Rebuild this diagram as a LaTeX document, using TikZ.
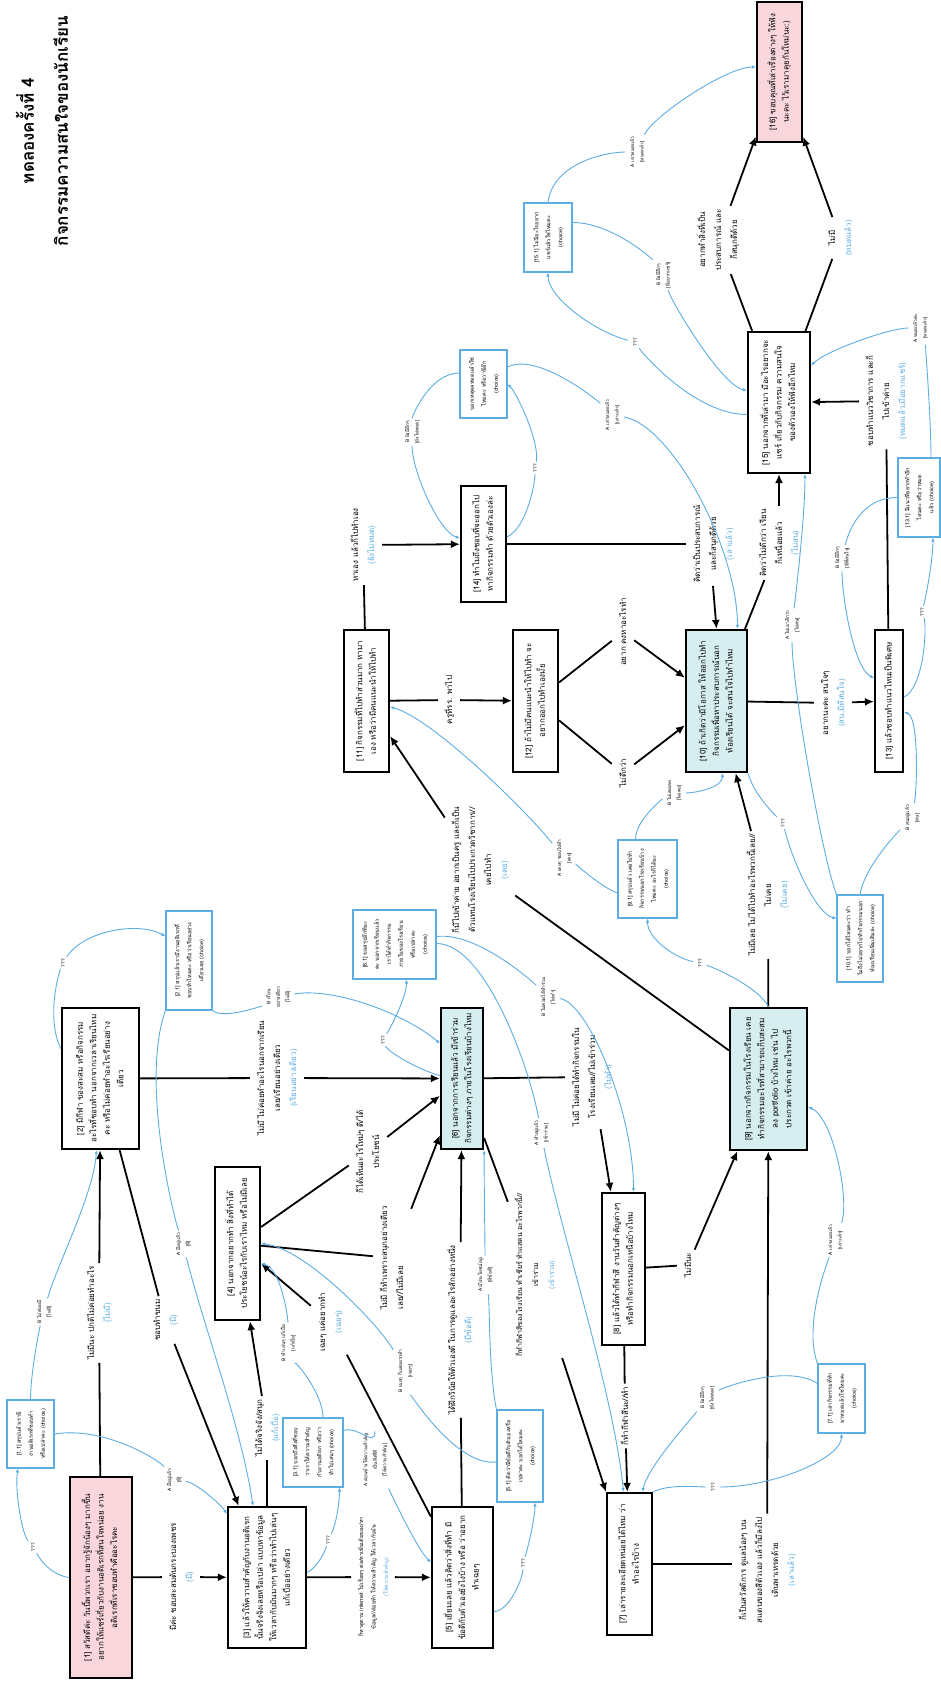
\documentclass[tikz,border=0pt]{standalone}
\usepackage{graphicx}
\usepackage{fontspec}
\setmainfont[Script=Thai]{Loma}
\usetikzlibrary{arrows.meta}
\definecolor{tblue}{RGB}{93,173,226}
\definecolor{cyanfill}{RGB}{214,238,239}
\definecolor{pinkfill}{RGB}{248,214,220}
\newcommand{\vt}[1]{\rotatebox{90}{\begin{tabular}{@{}c@{}}#1\end{tabular}}}
\newcommand{\vtl}[1]{\rotatebox{90}{\begin{tabular}{@{}l@{}}#1\end{tabular}}}
\newcommand{\bl}[1]{\textcolor{tblue}{#1}}
\tikzset{
  box/.style={draw, line width=2.2pt, inner sep=0pt, font=\fontsize{8}{13.5}\selectfont},
  cbox/.style={draw=tblue, line width=1.1pt, inner sep=0pt, font=\fontsize{5.5}{12}\selectfont},
  lbl/.style={inner sep=3pt, font=\fontsize{8}{16}\selectfont},
  sl/.style={inner sep=2pt, font=\fontsize{4.8}{9.5}\selectfont},
  conn/.style={line width=1.8pt},
  arr/.style={conn, -{Latex[length=9pt,width=8pt]}},
  bc/.style={tblue, line width=0.9pt},
  ba/.style={bc, -{Latex[length=4pt,width=3.5pt]}}
}
\begin{document}
\begin{tikzpicture}[x=1pt,y=-1pt]
\useasboundingbox (0,0) rectangle (941,1684);
% title
\node[font=\fontsize{17}{34}\selectfont\bfseries] (title) at (44,131) {\vt{ทดลองครั้งที่ 4\\กิจกรรมความสนใจของนักเรียน}};
% main boxes
\node[box, fill=pinkfill, minimum width=62, minimum height=201] (n1) at (101,1577.5) {\vt{[1] สวัสดีค่ะ วันนี้พวกเรา อยากรู้จักน้องๆ มากขึ้น\\อยากให้แชร์เกี่ยวกับงานอดิเรกที่สนใจหน่อย งาน\\อดิเรกที่เราชอบทำคืออะไรคะ}};
\node[box, minimum width=77, minimum height=141] (n2) at (100.5,1078.5) {\vt{[2] มีกีฬา ของสะสม หรือกิจกรรม\\อะไรที่ชอบทำ นอกจากเวลาเรียนไหม\\คะ หรือไม่ค่อยทำอะไรเรียนอย่าง\\เดียว}};
\node[box, minimum width=78, minimum height=141] (n3) at (267,1577.5) {\vt{[3] แล้วให้ความสำคัญกับงานอดิเรก\\นั้นจริงจังเลยหรือเปล่า แบบหาข้อมูล\\ให้เวลากับมันมากๆ หรือว่าทำไปเล่นๆ\\แก้เบื่ออย่างเดียว}};
\node[box, minimum width=45, minimum height=153] (n4) at (237.5,1243.5) {\vt{[4] นอกจากอยากทำ สิ่งที่ทำได้\\ประโยชน์อะไรกับเราไหม หรือไม่มีเลย}};
\node[box, minimum width=61, minimum height=141] (n5) at (462.5,1577.5) {\vt{[5] เยี่ยมเลย แล้วคิดว่าสิ่งที่ทำ มี\\ข้อดีกับตัวเองยังไงบ้าง หรือ ว่าอยาก\\ทำเฉยๆ}};
\node[box, fill=cyanfill, minimum width=42, minimum height=141] (n6) at (462,1078.5) {\vt{[6] นอกจากการเรียนแล้ว มีเข้าร่วม\\กิจกรรมต่างๆ ภายในโรงเรียนบ้างไหม}};
\node[box, minimum width=45, minimum height=142] (n7) at (629.5,1564) {\vt{[7] เล่ารายละเอียดหน่อยได้ไหม ว่า\\ทำอะไรบ้าง}};
\node[box, minimum width=43, minimum height=152] (n8) at (623.5,1269) {\vt{[8] แล้วได้ทำกีฬาสี งานวันสำคัญต่างๆ\\หรือทำกิจกรรมนอกเหนือบ้างไหม}};
\node[box, fill=cyanfill, minimum width=77, minimum height=142] (n9) at (768.5,1079) {\vt{[9] นอกจากกิจกรรมในโรงเรียน เคย\\ทำกิจกรรมอะไรที่สามารถเก็บสะสม\\ลง portfolio บ้างไหม เช่น ไป\\ประกวด เข้าค่าย อะไรพวกนี้}};
\node[box, fill=cyanfill, minimum width=61, minimum height=142] (n10) at (716.5,701) {\vt{[10] ถ้าเกิดว่ามีโอกาส ให้ออกไปทำ\\กิจกรรมเพื่อหาประสบการณ์นอก\\ห้องเรียนได้ จะสนใจไปทำไหม}};
\node[box, minimum width=45, minimum height=142] (n11) at (366.5,701) {\vt{[11] กิจกรรมที่ไปทำส่วนมาก หามา\\เอง หรือว่ามีคนแนะนำให้ไปทำ}};
\node[box, minimum width=45, minimum height=142] (n12) at (535.5,701) {\vt{[12] ถ้าไม่มีคนแนะนำให้ไปทำ จะ\\อยากออกไปทำเองมั้ย}};
\node[box, minimum width=28, minimum height=142] (n13) at (889,701) {\vt{[13] แล้วชอบทำแนวไหนเป็นพิเศษ}};
\node[box, minimum width=45, minimum height=116] (n14) at (483.5,544) {\vt{[14] ทำไมถึงชอบที่จะออกไป\\หากิจกรรมทำ ด้วยตัวเองล่ะ}};
\node[box, minimum width=62, minimum height=141] (n15) at (779,402.5) {\vt{[15] นอกจากที่เล่ามา มีอะไรอยากจะ\\แชร์ เกี่ยวกับกิจกรรม ความสนใจ\\ของตัวเองให้ฟังอีกไหม}};
\node[box, fill=pinkfill, minimum width=45, minimum height=140] (n16) at (779.5,72) {\vt{[16] ขอบคุณที่เล่าเรื่องต่างๆ ให้ฟัง\\นะคะ ไว้เรามาคุยกันใหม่นะ:)}};
% choice boxes
\node[cbox, minimum width=47, minimum height=68] (c1_1) at (30.5,1434) {\vt{[1.1] สรุปแล้วเรามี\\งานอดิเรกที่ชอบทำ\\หรือเปล่าคะ (choice)}};
\node[cbox, minimum width=46, minimum height=99] (c2_1) at (189,960.5) {\vt{[2.1] สรุปแล้วเรามีงานอดิเรกที่\\ชอบทำไหมคะ หรือว่าเรียนอย่าง\\เดียวเลย (choice)}};
\node[cbox, minimum width=60, minimum height=69] (c3_1) at (313,1452.5) {\vt{[3.1] บอกถึงสิ่งที่ชอบ\\ว่าเราให้ความสำคัญ\\กับงานอดิเรก หรือว่า\\ทำไปเล่นๆ (choice)}};
\node[cbox, minimum width=46, minimum height=92] (c5_1) at (520,1456) {\vt{[5.1] คิดว่ามีข้อดีกับตัวเองหรือ\\เปล่าคะ บอกได้ไหมคะ\\(choice)}};
\node[cbox, minimum width=83, minimum height=69] (c6_1) at (394.5,944.5) {\vt{[6.1] ขอสรุปอีกทีนะ\\คะ นอกจากเรียนแล้ว\\เราได้ทำกิจกรรม\\ภายในของโรงเรียน\\หรือเปล่าคะ\\(choice)}};
\node[cbox, minimum width=47, minimum height=69] (c7_1) at (841.5,1398.5) {\vt{[7.1] เล่ากิจกรรมที่ทำ\\มาหมดแล้วใช่ไหมคะ\\(choice)}};
\node[cbox, minimum width=59, minimum height=78] (c9_1) at (647.5,879) {\vt{[9.1] สรุปแล้ว เคยไปทำ\\กิจกรรมนอกโรงเรียนบ้าง\\ไหมคะ อะไรก็ได้นะ\\(choice)}};
\node[cbox, minimum width=46, minimum height=87] (c10_1) at (860,938.5) {\vt{[10.1] บอกได้ไหมคะว่า ทำ\\ไมถึงไม่อยากไปทำกิจกรรมนอก\\ห้องเรียนเพิ่มเติมล่ะ (choice)}};
\node[cbox, minimum width=42, minimum height=79] (c13_1) at (919,497.5) {\vt{[13.1] มีแนวที่อยากทำอีก\\ไหมคะ หรือว่าหมด\\แล้ว (choice)}};
\node[cbox, minimum width=47, minimum height=68] (c14_1) at (483.5,384) {\vt{บอกเหตุผลหมดแล้วใช่\\ไหมคะ หรือว่ามีอีก\\(choice)}};
\node[cbox, minimum width=48, minimum height=69] (c15_1) at (548,237.5) {\vt{[15.1] ไม่มีอะไรอยาก\\แชร์แล้วใช่ไหมคะ\\(choice)}};
% connector labels
\node[lbl] (L12) at (99,1313) {\vt{ไม่มีนะ ปกติไม่ค่อยทำอะไร\\\bl{(ไม่มี)}}};
\node[lbl] (L13) at (181,1577) {\vt{มีค่ะ ชอบสะสมต้นกระบองเพชร\\\bl{(มี)}}};
\node[lbl] (L23) at (165,1320) {\vt{ชอบทำขนม\\\bl{(มี)}}};
\node[lbl] (L26) at (277,1078) {\vt{ไม่มี ไม่ค่อยทำอะไรนอกจากเรียน\\เลย/เรียนอย่างเดียว\\\bl{(เรียนอย่างเดียว)}}};
\node[lbl] (L34) at (267,1428) {\vt{ไม่ได้จริงจัง/สนุก\\\bl{(แก้เบื่อ)}}};
\node[lbl, font=\fontsize{5.5}{12.5}\selectfont] (L35) at (373,1577) {\vt{ก็หาดูตาม internet ไปเรื่อยๆ ต่อ/หาเพิ่มเติมของ/หา\\ข้อมูล//ค่อยทำ ให้ความสำคัญ ให้เวลากับมัน\\\bl{(ให้ความสำคัญ)}}};
\node[lbl] (L46a) at (368,1152) {\vt{ก็ได้เห็นอะไรใหม่ๆ ดี/ได้\\ประโยชน์}};
\node[lbl] (L46b) at (392,1258) {\vtl{ไม่มี ก็ทำเพราะสนุกอย่างเดียว\\เลย//ไม่มีเลย}};
\node[lbl] (L54) at (330,1322) {\vt{เฉยๆ แค่อยากทำ\\\bl{(เฉยๆ)}}};
\node[lbl] (L56) at (460,1330) {\vt{ได้ฝึกวินัยให้ตัวเองดี ในการดูแลอะไรสักอย่างหนึ่ง\\\bl{(มีข้อดี)}}};
\node[lbl, font=\fontsize{7}{16}\selectfont] (L67) at (535,1275) {\vt{ก็ทำกีฬาสีของโรงเรียน ทำเชียร์ ทำแสตน อะไรพวกนี้//\\เข้าร่วม\\\bl{(เข้าร่วม)}}};
\node[lbl] (L68) at (592,1077) {\vt{ไม่มี ไม่ค่อยได้ทำกิจกรรมใน\\โรงเรียนเลย//ไม่เข้าร่วม\\\bl{(ไม่ทำ)}}};
\node[lbl] (L79) at (767,1570) {\vt{ก็เป็นสวัสดิการ ดูแลน้องๆ บน\\สแตนของสีตัวเอง แล้วก็มีลงไป\\เดินพาเหรดด้วย\\\bl{(เล่าแล้ว)}}};
\node[lbl] (L87) at (625,1416) {\vt{ก็ทำกีฬาสีนะ//ทำ}};
\node[lbl] (L89) at (688,1265) {\vt{ไม่มีนะ}};
\node[lbl] (L910) at (768,895) {\vt{ไม่มีเลย ไม่ได้ไปทำอะไรพวกนี้เลย//\\ไม่เคย\\\bl{(ไม่เคย)}}};
\node[lbl] (L911) at (480,870) {\vt{ก็มีไปเข้าค่าย อยากเป็นครู และก็เป็น\\ตัวแทนโรงเรียนไปประกวดวิชาการ//\\เคยไปทำ\\\bl{(เคย)}}};
\node[lbl] (L1013) at (833,703) {\vt{อยากนะคะ สนใจๆ\\\bl{(สน,มีที่สนใจ)}}};
\node[lbl] (L1015) at (779,543) {\vt{คิดว่าไม่ดีกว่า เรียน\\ก็เหนื่อยแล้ว\\\bl{(ไม่สน)}}};
\node[lbl] (L1112) at (449,700) {\vt{ครูที่รร. พาไป}};
\node[lbl] (L1114) at (363,545) {\vt{หาเอง แล้วก็ไปทำเอง\\\bl{(ยังไม่หมด)}}};
\node[lbl] (L1210a) at (623,632) {\vt{อยาก คงหาอะไรทำ}};
\node[lbl] (L1210b) at (623,773) {\vt{ไม่ดีกว่า}};
\node[lbl] (L1315) at (886,401) {\vt{ชอบทำแนววิชาการ และก็\\ไปเข้าค่าย\\\bl{(หมดแล้ว,มีอยากแชร์)}}};
\node[lbl] (L1410) at (713,544) {\vt{คิดว่าเป็นประสบการณ์\\และก็สนุกดีด้วย\\\bl{(เล่าแล้ว)}}};
\node[lbl] (L151) at (718,240) {\vt{อยากทำสิ่งที่เป็น\\ประสบการณ์ และ\\ก็สนุกดีด้วย}};
\node[lbl] (L152) at (840,238) {\vt{ไม่มี\\\bl{(หมดแล้ว)}}};
% small labels
\node[sl] (q1) at (33,1547) {\vt{???}};
\node[sl] (B1) at (44,1312) {\vt{B ไม่ค่อยมี\\{[}ไม่มี{]}}};
\node[sl] (A1) at (174,1480) {\vt{A มีอยู่แล้ว\\{[}มี{]}}};
\node[sl] (q2) at (63,963) {\vt{???}};
\node[sl] (B2) at (278,997) {\vt{B เรียน\\อย่างเดียว\\{[}ไม่มี{]}}};
\node[sl] (A2) at (183,1244) {\vt{A มีอยู่แล้ว\\{[}มี{]}}};
\node[sl] (q3) at (328,1540) {\vt{???}};
\node[sl] (A3) at (375,1460) {\vt{A ค่อนข้างให้ความสำคัญ\\เป็นสิ่งที่ดี\\{[}ให้ความสำคัญ{]}}};
\node[sl] (B3) at (288,1343) {\vt{B ทำเล่นๆ แก้เบื่อ\\{[}แก้เบื่อ{]}}};
\node[sl] (q5) at (523,1563) {\vt{???}};
\node[sl] (A5) at (485,1275) {\vt{A มีประโยชน์อยู่\\{[}มีข้อดี{]}}};
\node[sl] (B5) at (405,1371) {\vt{B เฉยๆ ก็แค่อยากทำ\\{[}เฉยๆ{]}}};
\node[sl] (q6) at (383,1040) {\vt{???}};
\node[sl] (A6) at (541,1133) {\vt{A ทำอยู่แล้ว\\{[}เข้าร่วม{]}}};
\node[sl] (B6) at (548,997) {\vt{B ไม่ค่อยได้ทำร่วม\\{[}ไม่ทำ{]}}};
\node[sl] (q7) at (713,1487) {\vt{???}};
\node[sl] (A7) at (835,1240) {\vt{A เล่าหมดแล้ว\\{[}เล่าแล้ว{]}}};
\node[sl] (B7) at (707,1398) {\vt{B ยังมีอีกๆ\\{[}ยังไม่หมด{]}}};
\node[sl] (q9) at (700,963) {\vt{???}};
\node[sl] (A9) at (564,858) {\vt{A เคยๆ ชอบไปทำ\\{[}เคย{]}}};
\node[sl] (B9) at (674,793) {\vt{B ไม่เคยเลย\\{[}ไม่เคย{]}}};
\node[sl] (q10) at (783,823) {\vt{???}};
\node[sl] (A10) at (792,625) {\vt{A ไม่เอาดีกว่า\\{[}ไม่สน{]}}};
\node[sl] (B10) at (912,818) {\vt{B สนอยู่แล้ว\\{[}สน{]}}};
\node[sl] (q13) at (922,612) {\vt{???}};
\node[sl] (A13) at (920,328) {\vt{A หมดแล้วค่ะ\\{[}หมดแล้ว{]}}};
\node[sl] (B13) at (842,558) {\vt{B ยังมีอีกๆ\\{[}มีที่สนใจ{]}}};
\node[sl] (q14) at (535,468) {\vt{???}};
\node[sl] (A14) at (612,415) {\vt{A เล่าหมดแล้ว\\{[}เล่าแล้ว{]}}};
\node[sl] (B14) at (412,432) {\vt{B ยังมีอีกๆ\\{[}ยังไม่หมด{]}}};
\node[sl] (q15) at (635,342) {\vt{???}};
\node[sl] (A15) at (637,152) {\vt{A เล่าหมดแล้ว\\{[}หมดแล้ว{]}}};
\node[sl] (B15) at (663,275) {\vt{B ยังมีอีกๆ\\{[}มีอยากแชร์{]}}};
% black connectors
\draw[conn] (n1) -- (L12); \draw[arr] (L12) -- (n2);
\draw[conn] (n1) -- (L13); \draw[arr] (L13) -- (n3);
\draw[conn] (n2) -- (L23); \draw[arr] (L23) -- (n3);
\draw[conn] (n2) -- (L26); \draw[arr] (L26) -- (n6);
\draw[conn] (n3) -- (L34); \draw[arr] (L34) -- (n4);
\draw[conn] (n3) -- (L35); \draw[arr] (L35) -- (n5);
\draw[conn] (n4) -- (L46a); \draw[arr] (L46a) -- (n6);
\draw[conn] (n4) -- (L46b); \draw[arr] (L46b) -- (n6);
\draw[conn] (n5) -- (L54); \draw[arr] (L54) -- (n4);
\draw[conn] (n5) -- (L56); \draw[arr] (L56) -- (n6);
\draw[conn] (n6) -- (L68); \draw[arr] (L68) -- (n8);
\draw[conn] (n6) -- (L67); \draw[arr] (L67) -- (n7);
\draw[conn] (n8) -- (L87); \draw[arr] (L87) -- (n7);
\draw[conn] (n8) -- (L89); \draw[arr] (L89) -- (n9);
\draw[conn] (n7.east) -- (n7.east -| L79.west); \draw[arr] (L79) -- (n9);
\draw[conn] (n9) -- (L910); \draw[arr] (L910) -- (n10);
\draw[conn] (n9) -- (L911); \draw[arr] (L911) -- (n11);
\draw[conn] (n10) -- (L1013); \draw[arr] (L1013) -- (n13);
\draw[conn] (n10) -- (L1015); \draw[arr] (L1015) -- (n15);
\draw[conn] (n11) -- (L1112); \draw[arr] (L1112) -- (n12);
\draw[conn] (n11) -- (L1114); \draw[arr] (L1114) -- (n14);
\draw[conn] (n12) -- (L1210a); \draw[arr] (L1210a) -- (n10);
\draw[conn] (n12) -- (L1210b); \draw[arr] (L1210b) -- (n10);
\draw[conn] (n13) -- (L1315); \draw[arr] (L1315) -- (n15);
\draw[conn] (n14) -- (L1410); \draw[arr] (L1410.south) -- (n10.north);
\draw[conn] (n15) -- (L151); \draw[arr] (L151) -- (n16);
\draw[conn] (n15) -- (L152); \draw[arr] (L152) -- (n16);
% blue curves
\draw[bc] (n1.west) .. controls +(-18,-3) and +(8,14) .. (q1);
\draw[ba] (q1) .. controls +(-12,-15) and +(-3,20) .. (c1_1.250);
\draw[bc] (c1_1.north) .. controls +(0,-25) and +(-5,18) .. (B1);
\draw[ba] (B1) .. controls +(12,-45) and +(-3,45) .. ([xshift=-4pt]n2.south);
\draw[bc] (c1_1.east) .. controls +(50,-8) and +(-15,-20) .. (A1);
\draw[ba] (A1) .. controls +(20,2) and +(-8,-12) .. ([yshift=-8pt]n3.north west);
\draw[bc] (n2.143) .. controls +(-14,-28) and +(-6,15) .. (q2);
\draw[ba] (q2) .. controls +(20,-32) and +(-28,-15) .. (c2_1.134);
\draw[bc] (c2_1.south east) .. controls +(12,10) and +(-10,6) .. (B2);
\draw[ba] (B2) .. controls +(55,-10) and +(-35,-30) .. ([yshift=35pt]n6.west);
\draw[bc] (c2_1.south west) .. controls +(-25,70) and +(-10,-30) .. (A2);
\draw[ba] (A2) .. controls +(20,80) and +(-12,-80) .. ([xshift=-14pt]n3.north);
\draw[bc] ([yshift=5pt]n3.east) .. controls +(10,-5) and +(-3,12) .. (q3);
\draw[ba] (q3) .. controls +(8,-15) and +(0,15) .. ([xshift=-4pt]c3_1.south east);
\draw[bc] ([yshift=22pt]c3_1.east) .. controls +(15,-5) and +(0,-12) .. (A3);
\draw[ba] (A3) .. controls +(12,25) and +(-15,-15) .. ([yshift=15pt]n5.west);
\draw[bc] ([xshift=10pt]c3_1.north) .. controls +(0,-25) and +(5,15) .. (B3);
\draw[ba] (B3) .. controls +(0,-25) and +(20,5) .. ([yshift=-20pt]n4.east);
\draw[bc] ([yshift=-34pt]n5.east) .. controls +(15,0) and +(0,15) .. (q5);
\draw[ba] (q5) .. controls +(5,-15) and +(0,15) .. ([xshift=15pt]c5_1.south);
\draw[bc] (c5_1.north west) .. controls +(-8,-40) and +(5,30) .. (A5);
\draw[ba] (A5) .. controls +(0,-40) and +(0,40) .. (n6.south east);
\draw[bc] ([yshift=-6pt]c5_1.west) .. controls +(-40,5) and +(5,22) .. (B5);
\draw[ba] (B5) .. controls +(-25,-45) and +(45,5) .. (n4.east);
\draw[bc] ([yshift=3pt]n6.west) .. controls +(-20,-5) and +(5,12) .. (q6);
\draw[ba] (q6) .. controls +(12,-20) and +(0,15) .. ([xshift=12pt]c6_1.south);
\draw[bc] ([yshift=1pt]c6_1.east) .. controls +(50,0) and +(-10,-60) .. (A6);
\draw[ba] (A6) .. controls +(20,100) and +(-10,-100) .. ([xshift=-6pt]n7.north);
\draw[bc] ([yshift=8pt]c6_1.east) .. controls +(40,-5) and +(-15,-15) .. (B6);
\draw[ba] (B6) .. controls +(40,5) and +(0,-80) .. ([xshift=10pt]n8.north);
\draw[bc] (n7.north east) .. controls +(15,-8) and +(-15,0) .. (q7);
\draw[ba] (q7) .. controls +(60,0) and +(0,25) .. (c7_1.south);
\draw[bc] ([yshift=15pt]c7_1.west) .. controls +(-30,-20) and +(15,-10) .. (B7);
\draw[ba] (B7) .. controls +(-15,20) and +(5,-25) .. ([xshift=13pt]n7.north);
\draw[bc] (c7_1.north west) .. controls +(-15,-40) and +(-5,15) .. (A7);
\draw[ba] (A7) .. controls +(15,-40) and +(25,10) .. ([yshift=-28pt]n9.east);
\draw[bc] (n9.north) .. controls +(-10,-20) and +(15,5) .. (q9);
\draw[ba] (q9) .. controls +(-25,-5) and +(0,20) .. (c9_1.south);
\draw[bc] ([yshift=-14pt]c9_1.west) .. controls +(-15,-5) and +(10,5) .. (A9);
\draw[ba] (A9) .. controls +(-40,-50) and +(40,10) .. ([yshift=-6pt]n11.east);
\draw[bc] ([xshift=-12pt]c9_1.north) .. controls +(0,-20) and +(-10,5) .. (B9);
\draw[ba] (B9) .. controls +(20,0) and +(0,15) .. ([xshift=6pt]n10.south);
\draw[bc] (n10.south east) .. controls +(5,20) and +(-10,-10) .. (q10);
\draw[ba] (q10) .. controls +(10,40) and +(-20,-5) .. ([yshift=20pt]c10_1.west);
\draw[bc] (c10_1.north west) .. controls +(-15,-40) and +(0,60) .. (A10);
\draw[ba] (A10) .. controls +(5,-40) and +(0,40) .. ([xshift=26pt]n15.south);
\draw[bc] (c10_1.north) .. controls +(5,-30) and +(-10,10) .. (B10);
\draw[ba] (B10) .. controls +(5,-30) and +(15,5) .. ([yshift=-11pt]n13.east);
\draw[bc] ([yshift=4pt]n13.east) .. controls +(20,-10) and +(5,15) .. (q13);
\draw[ba] (q13) .. controls +(5,-20) and +(0,20) .. ([xshift=14pt]c13_1.south);
\draw[bc] (c13_1.west) .. controls +(-40,0) and +(5,-20) .. (B13);
\draw[ba] (B13) .. controls +(0,40) and +(-20,-10) .. ([yshift=23pt]n13.west);
\draw[bc] ([xshift=12pt]c13_1.north) .. controls +(0,-40) and +(5,15) .. (A13);
\draw[ba] (A13) .. controls +(-30,0) and +(15,-15) .. ([yshift=37pt]n15.east);
\draw[bc] ([yshift=7pt]n14.east) .. controls +(20,-10) and +(0,15) .. (q14);
\draw[ba] (q14) .. controls +(5,-25) and +(10,10) .. (c14_1.east);
\draw[bc] ([yshift=11pt]c14_1.west) .. controls +(-30,0) and +(0,-15) .. (B14);
\draw[ba] (B14) .. controls +(0,40) and +(-20,-5) .. ([yshift=6pt]n14.west);
\draw[bc] ([yshift=17pt]c14_1.east) .. controls +(30,-15) and +(-15,-15) .. (A14);
\draw[ba] (A14) .. controls +(60,10) and +(0,-80) .. ([xshift=21pt]n10.north);
\draw[bc] ([yshift=-12pt]n15.west) .. controls +(-50,0) and +(10,15) .. (q15);
\draw[ba] (q15) .. controls +(-40,-10) and +(0,25) .. (c15_1.south);
\draw[bc] (c15_1.north) .. controls +(5,-40) and +(-30,0) .. (A15);
\draw[ba] (A15) .. controls +(15,-35) and +(-30,0) .. ([yshift=5pt]n16.west);
\draw[bc] ([yshift=15pt]c15_1.east) .. controls +(40,0) and +(-10,-15) .. (B15);
\draw[ba] (B15) .. controls +(10,30) and +(-25,-5) .. ([yshift=12pt]n15.west);
\end{tikzpicture}
\end{document}
